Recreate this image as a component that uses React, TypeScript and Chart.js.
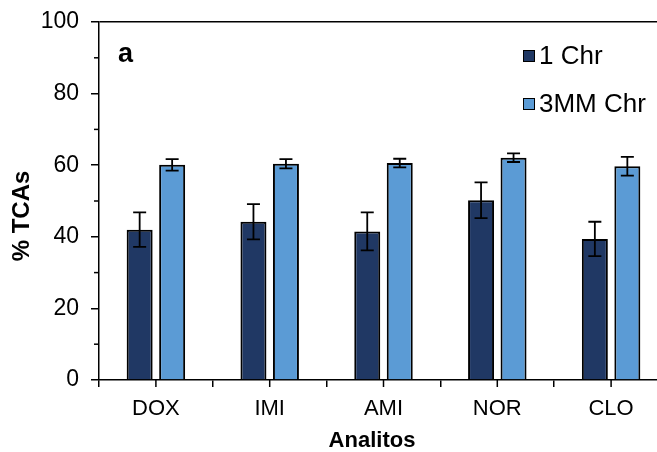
import React, { useEffect, useRef } from 'react';
import { Chart, registerables } from 'chart.js';
Chart.register(...registerables);

const categories = ['DOX', 'IMI', 'AMI', 'NOR', 'CLO'];
const series1Label = '1 Chr';
const series1 = [42.0, 44.2, 41.5, 50.2, 39.4];
const series1Err = [4.8, 4.9, 5.3, 5.0, 4.8];
const series2Label = '3MM Chr';
const series2 = [60.1, 60.4, 60.6, 62.1, 59.7];
const series2Err = [1.6, 1.3, 1.2, 1.2, 2.6];
const yMin = 0;
const yMax = 100;
const yMajorStep = 20;
const yMinorTicks = [10, 30, 50, 70, 90];
const panelLabel = 'a';
const xTitle = 'Analitos';
const yTitle = '% TCAs';

const errors = [series1Err, series2Err];
const FONT = "'Liberation Sans', Arial, sans-serif";
const colors = ['#203864', '#5B9BD5'];

const errorBarPlugin = {
  id: 'errorBars',
  afterDatasetsDraw(chart: any) {
    const ctx = chart.ctx;
    const y = chart.scales.y;
    ctx.save();
    ctx.strokeStyle = '#000';
    ctx.lineWidth = 1.8;
    chart.data.datasets.forEach((ds: any, i: number) => {
      const meta = chart.getDatasetMeta(i);
      meta.data.forEach((el: any, j: number) => {
        const v = ds.data[j];
        const e = errors[i][j];
        const yt = y.getPixelForValue(v + e);
        const yb = y.getPixelForValue(v - e);
        const cx = el.x;
        const cap = 6.5;
        ctx.beginPath();
        ctx.moveTo(cx, yt);
        ctx.lineTo(cx, yb);
        ctx.moveTo(cx - cap, yt);
        ctx.lineTo(cx + cap, yt);
        ctx.moveTo(cx - cap, yb);
        ctx.lineTo(cx + cap, yb);
        ctx.stroke();
      });
    });
    ctx.restore();
  },
};

const decorPlugin = {
  id: 'decor',
  afterDraw(chart: any) {
    const ctx = chart.ctx;
    const { left, top, bottom } = chart.chartArea;
    const x = chart.scales.x;
    const y = chart.scales.y;
    ctx.save();
    ctx.strokeStyle = '#000';
    ctx.lineWidth = 1.5;
    // center ticks on x axis
    for (let i = 0; i < categories.length; i++) {
      const px = x.getPixelForTick(i);
      ctx.beginPath();
      ctx.moveTo(px, bottom);
      ctx.lineTo(px, bottom + 7);
      ctx.stroke();
    }
    // minor y ticks
    yMinorTicks.forEach((v) => {
      const py = y.getPixelForValue(v);
      ctx.beginPath();
      ctx.moveTo(left - 5, py);
      ctx.lineTo(left, py);
      ctx.stroke();
    });
    ctx.fillStyle = '#000';
    // axis titles
    ctx.textAlign = 'center';
    ctx.textBaseline = 'middle';
    ctx.font = `bold 22px ${FONT}`;
    ctx.fillText(xTitle, left + 273, bottom + 61);
    ctx.save();
    ctx.translate(22, (top + bottom) / 2 + 15);
    ctx.rotate(-Math.PI / 2);
    ctx.font = `bold 24px ${FONT}`;
    ctx.fillText(yTitle, 0, 0);
    ctx.restore();
    // panel label
    ctx.font = `bold 27px ${FONT}`;
    ctx.textBaseline = 'alphabetic';
    ctx.textAlign = 'left';
    ctx.fillText(panelLabel, left + 19, top + 40);
    // legend
    const labels = [series1Label, series2Label];
    ctx.font = `26px ${FONT}`;
    ctx.lineWidth = 1;
    labels.forEach((lab, i) => {
      const lx = left + 424;
      const cy = top + 34 + i * 48;
      ctx.fillStyle = colors[i];
      ctx.fillRect(lx, cy - 6, 12, 12);
      ctx.strokeStyle = '#000';
      ctx.strokeRect(lx + 0.5, cy - 5.5, 11, 11);
      ctx.fillStyle = '#000';
      ctx.textBaseline = 'middle';
      ctx.fillText(lab, lx + 16, cy + 1);
    });
    ctx.restore();
  },
};

export default function App() {
  const ref = useRef<HTMLCanvasElement>(null);
  useEffect(() => {
    if (!ref.current) return;
    const chart = new Chart(ref.current, {
      type: 'bar',
      data: {
        labels: categories,
        datasets: [
          {
            label: series1Label,
            data: series1,
            backgroundColor: colors[0],
            borderColor: '#000',
            borderWidth: 2,
            categoryPercentage: 0.571,
            barPercentage: 0.8,
          },
          {
            label: series2Label,
            data: series2,
            backgroundColor: colors[1],
            borderColor: '#000',
            borderWidth: 2,
            categoryPercentage: 0.571,
            barPercentage: 0.8,
          },
        ],
      },
      options: {
        responsive: false,
        animation: false,
        devicePixelRatio: 1,
        layout: { padding: { top: 22, right: 12, left: 0, bottom: 0 } },
        plugins: { legend: { display: false }, tooltip: { enabled: false } },
        scales: {
          x: {
            grid: {
              display: true,
              drawOnChartArea: false,
              offset: true,
              tickLength: 7,
              color: '#000',
              lineWidth: 1.5,
            },
            border: { display: true, color: '#000', width: 1.5 },
            ticks: { color: '#000', font: { family: FONT, size: 22 }, padding: 9 },
            afterFit: (s: any) => {
              s.height = 72;
            },
          },
          y: {
            min: yMin,
            max: yMax,
            ticks: {
              stepSize: yMajorStep,
              color: '#000',
              font: { family: FONT, size: 23 },
              padding: 12,
            },
            grid: {
              display: true,
              drawOnChartArea: true,
              tickLength: 8,
              lineWidth: 1.5,
              tickColor: '#000',
              color: (c: any) => (c.tick && c.tick.value === yMax ? '#000' : 'rgba(0,0,0,0)'),
            },
            border: { display: true, color: '#000', width: 1.5 },
            afterFit: (s: any) => {
              s.width = 99;
              s.paddingTop = 0;
              s.paddingBottom = 0;
            },
          },
        },
      },
      plugins: [errorBarPlugin, decorPlugin],
    } as any);
    return () => chart.destroy();
  }, []);
  return (
    <div style={{ position: 'absolute', left: 0, top: 0, width: 657, height: 452, overflow: 'hidden', background: '#fff' }}>
      <canvas ref={ref} width={680} height={452} style={{ width: 680, height: 452, display: 'block' }} />
    </div>
  );
}
